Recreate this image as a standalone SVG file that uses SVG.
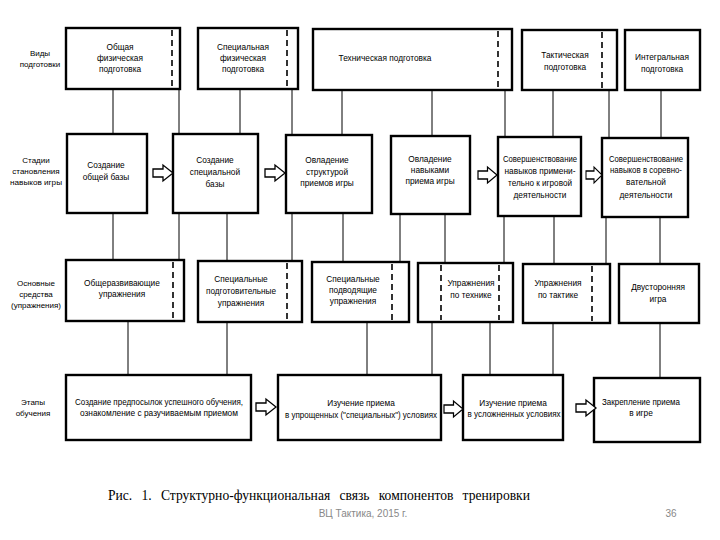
<svg xmlns="http://www.w3.org/2000/svg" width="720" height="540" viewBox="0 0 720 540">
<defs>
<style>
.box{fill:#fff;stroke:#000;stroke-width:2.4}
.dash{stroke:#000;stroke-width:1.6;stroke-dasharray:6 4;fill:none}
.con{stroke:#000;stroke-width:1;fill:none}
.arr{fill:#fff;stroke:#000;stroke-width:1.3;stroke-linejoin:miter}
text{font-family:"Liberation Sans Narrow","Liberation Sans",Arial,sans-serif;font-size:8.3px;fill:#000;text-anchor:middle}
.lbl{font-size:8px}
.cap{font-family:"Liberation Serif","Times New Roman",serif;font-size:14px;text-anchor:start;fill:#000;word-spacing:6px}
.foot{font-family:"Liberation Sans",Arial,sans-serif;font-size:10px;fill:#888}
</style>
<path id="ar" d="M0,-4 H10 V-8 L20,0 L10,8 V4 H0 Z"/>
</defs>

<g id="connectors">
<path class="con" d="M113,89V134M179,89V134M240,89V134M292,89V135M342,90V135M432,90V136M505,90V137M553,90V138M609,90V138M661,90V138"/>
<path class="con" d="M113,213V260M179,213V260M227,213V261M292,213V261M343,213V262M400,214V262M445,214V263M504,216V263M554,216V264M606,217V264M660,217V264"/>
<path class="con" d="M128,321V375M227,322V375M367,322V375M432,322V375M490,322V376M553,323V376M660,323V378"/>
</g>

<g id="row-labels">
<text class="lbl" x="40" y="56">Виды</text><text class="lbl" x="40" y="67">подготовки</text>
<text class="lbl" x="36" y="163">Стадии</text><text class="lbl" x="36" y="174">становления</text><text class="lbl" x="36" y="185" textLength="52" lengthAdjust="spacingAndGlyphs">навыков игры</text>
<text class="lbl" x="36" y="286">Основные</text><text class="lbl" x="36" y="297">средства</text><text class="lbl" x="36" y="308">(упражнения)</text>
<text class="lbl" x="33" y="405">Этапы</text><text class="lbl" x="33" y="416">обучения</text>
</g>

<g id="vid-ofp"><rect class="box" x="66" y="28" width="114" height="61"/><path class="dash" d="M172,30V87"/>
<text x="120" y="50">Общая</text><text x="120" y="61">физическая</text><text x="120" y="72">подготовка</text></g>
<g id="vid-sfp"><rect class="box" x="198" y="28" width="100" height="61"/><path class="dash" d="M287,30V87"/>
<text x="243" y="50">Специальная</text><text x="243" y="61">физическая</text><text x="243" y="72">подготовка</text></g>
<g id="vid-tech"><rect class="box" x="313" y="29" width="199" height="61"/><path class="dash" d="M498,31V88"/>
<text x="385" y="61">Техническая подготовка</text></g>
<g id="vid-takt"><rect class="box" x="522" y="30" width="95" height="60"/><path class="dash" d="M602,32V88"/>
<text x="565" y="58">Тактическая</text><text x="565" y="70">подготовка</text></g>
<g id="vid-integr"><rect class="box" x="625" y="30" width="75" height="60"/>
<text x="662" y="60">Интегральная</text><text x="662" y="72">подготовка</text></g>

<g id="st-1"><rect class="box" x="67" y="134" width="80" height="79"/>
<text x="106" y="168">Создание</text><text x="106" y="180">общей базы</text></g>
<g id="st-2"><rect class="box" x="173" y="134" width="85" height="79"/>
<text x="215" y="163">Создание</text><text x="215" y="175">специальной</text><text x="215" y="187">базы</text></g>
<g id="st-3"><rect class="box" x="286" y="135" width="86" height="78"/>
<text x="327" y="163">Овладение</text><text x="327" y="175">структурой</text><text x="327" y="186">приемов игры</text></g>
<g id="st-4"><rect class="box" x="391" y="136" width="79" height="78"/>
<text x="430" y="162">Овладение</text><text x="430" y="173">навыками</text><text x="430" y="184">приема игры</text></g>
<g id="st-5"><rect class="box" x="498" y="137" width="83" height="79"/>
<text x="540" y="162" textLength="74" lengthAdjust="spacingAndGlyphs">Совершенствование</text><text x="540" y="174" textLength="71" lengthAdjust="spacingAndGlyphs">навыков примени-</text><text x="540" y="186" textLength="64" lengthAdjust="spacingAndGlyphs">тельно к игровой</text><text x="540" y="198">деятельности</text></g>
<g id="st-6"><rect class="box" x="602" y="138" width="86" height="79"/>
<text x="646" y="162" textLength="74" lengthAdjust="spacingAndGlyphs">Совершенствование</text><text x="646" y="173" textLength="72" lengthAdjust="spacingAndGlyphs">навыков в соревно-</text><text x="646" y="185">вательной</text><text x="646" y="198">деятельности</text></g>

<g id="sr-1"><rect class="box" x="66" y="260" width="118" height="61"/><path class="dash" d="M173,262V319"/>
<text x="122" y="286">Общеразвивающие</text><text x="122" y="297">упражнения</text></g>
<g id="sr-2"><rect class="box" x="198" y="261" width="104" height="61"/><path class="dash" d="M287,263V320"/>
<text x="241" y="282">Специальные</text><text x="241" y="294" textLength="70" lengthAdjust="spacingAndGlyphs">подготовительные</text><text x="241" y="306">упражнения</text></g>
<g id="sr-3"><rect class="box" x="312" y="262" width="97" height="60"/><path class="dash" d="M392,264V320"/>
<text x="353" y="282">Специальные</text><text x="353" y="293">подводящие</text><text x="353" y="304">упражнения</text></g>
<g id="sr-4"><rect class="box" x="418" y="263" width="95" height="59"/><path class="dash" d="M441,265V320M499,265V320"/>
<text x="471" y="286">Упражнения</text><text x="471" y="298">по технике</text></g>
<g id="sr-5"><rect class="box" x="523" y="264" width="87" height="59"/><path class="dash" d="M592,266V321"/>
<text x="558" y="286">Упражнения</text><text x="558" y="298">по тактике</text></g>
<g id="sr-6"><rect class="box" x="619" y="264" width="80" height="59"/>
<text x="658" y="290">Двусторонняя</text><text x="658" y="302">игра</text></g>

<g id="et-1"><rect class="box" x="66" y="375" width="185" height="65"/>
<text x="159" y="405" textLength="168" lengthAdjust="spacingAndGlyphs">Создание предпосылок успешного обучения,</text><text x="159" y="416" textLength="158" lengthAdjust="spacingAndGlyphs">ознакомление с разучиваемым приемом</text></g>
<g id="et-2"><rect class="box" x="278" y="375" width="163" height="65"/>
<text x="361" y="406">Изучение приема</text><text x="361" y="418" textLength="152" lengthAdjust="spacingAndGlyphs">в упрощенных ("специальных") условиях</text></g>
<g id="et-3"><rect class="box" x="463" y="375" width="100" height="65"/>
<text x="513" y="406">Изучение приема</text><text x="514" y="417" textLength="93" lengthAdjust="spacingAndGlyphs">в усложненных условиях</text></g>
<g id="et-4"><rect class="box" x="594" y="378" width="106" height="64"/>
<text x="641" y="405" textLength="78" lengthAdjust="spacingAndGlyphs">Закрепление приема</text><text x="641" y="416">в игре</text></g>

<g id="arrows">
<use href="#ar" class="arr" transform="translate(153,173)"/>
<use href="#ar" class="arr" transform="translate(265,173)"/>
<use href="#ar" class="arr" transform="translate(478,175) scale(0.95,1)"/>
<use href="#ar" class="arr" transform="translate(586,175) scale(0.8,1)"/>
<use href="#ar" class="arr" transform="translate(256,407)"/>
<use href="#ar" class="arr" transform="translate(444,409) scale(0.95,1)"/>
<use href="#ar" class="arr" transform="translate(576,408)"/>
</g>

<g id="caption">
<text class="cap" x="108" y="500" textLength="422" lengthAdjust="spacingAndGlyphs">Рис.  1. Структурно-функциональная  связь  компонентов  тренировки</text>
<text class="foot" x="363" y="517">ВЦ Тактика, 2015 г.</text>
<text class="foot" x="671" y="517">36</text>
</g>
</svg>
